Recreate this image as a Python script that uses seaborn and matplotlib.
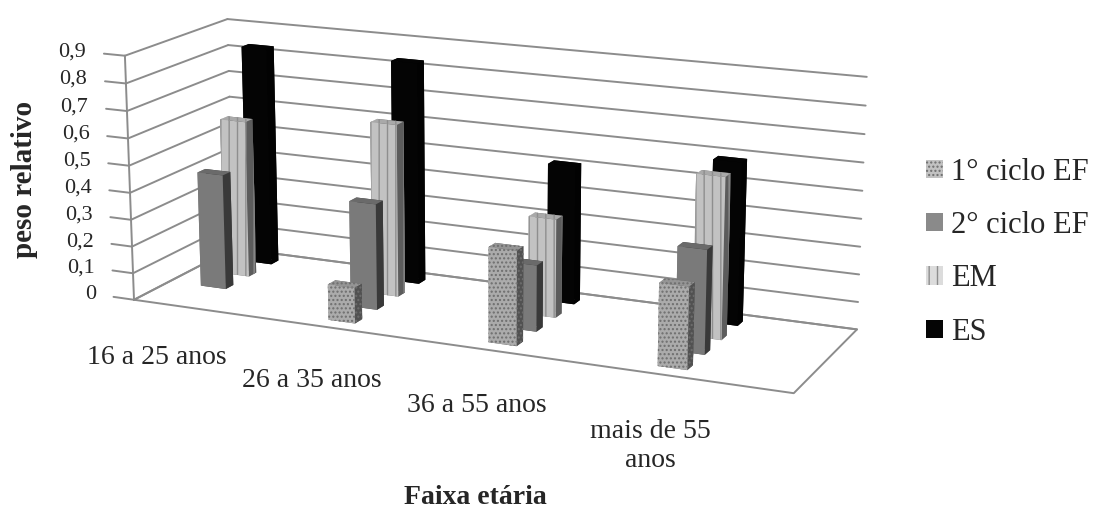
import numpy as np
import pandas as pd
import seaborn as sns
import matplotlib
matplotlib.use("Agg")
import matplotlib.pyplot as plt
from matplotlib.patches import Patch
from mpl_toolkits.mplot3d import proj3d

# ---- data -------------------------------------------------------------
categories = ["16 a 25 anos", "26 a 35 anos", "36 a 55 anos", "mais de 55\nanos"]
series = ["1° ciclo EF", "2° ciclo EF", "EM", "ES"]
ciclo1_ef = [0.0, 0.13, 0.34, 0.29]
ciclo2_ef = [0.43, 0.39, 0.24, 0.37]
em = [0.59, 0.64, 0.36, 0.58]
es = [0.83, 0.83, 0.51, 0.59]
z_ticks = [0.0, 0.1, 0.2, 0.3, 0.4, 0.5, 0.6, 0.7, 0.8, 0.9]
z_labels = ["0", "0,1", "0,2", "0,3", "0,4", "0,5", "0,6", "0,7", "0,8", "0,9"]

df = pd.DataFrame({
    "faixa": np.repeat(categories, len(series)),
    "nivel": series * len(categories),
    "peso": np.ravel(np.column_stack([ciclo1_ef, ciclo2_ef, em, es])),
})

# ---- style ------------------------------------------------------------
sns.set_theme(style="white")
plt.rcParams["font.family"] = ["Liberation Serif", "DejaVu Serif"]
plt.rcParams["hatch.linewidth"] = 1.0

GRID = "#8c8c8c"
styles = {
    "1° ciclo EF": dict(face="#c2c2c2", hatch="....", hcolor="#6e6e6e"),
    "2° ciclo EF": dict(face="#8a8a8a", hatch=None, hcolor="#8a8a8a"),
    "EM": dict(face="#dcdcdc", hatch="||", hcolor="#8e8e8e"),
    "ES": dict(face="#050505", hatch=None, hcolor="#050505"),
}

fig = plt.figure(figsize=(10.99, 5.19), dpi=100)
ax = fig.add_axes([0.009, 0.158, 0.86, 0.92], projection="3d", computed_zorder=False)
ax.set_proj_type("persp", focal_length=1.0)
ax.view_init(elev=15, azim=-66)
ax.set_box_aspect((0.880, 0.258, 0.319), zoom=1.59)
ax.set_axis_off()

x_lo, x_hi = -0.3, len(categories) - 0.28
y_lo, y_hi = -0.6, len(series) - 0.4
z_top = z_ticks[-1]
ax.set_xlim(x_lo, x_hi)
ax.set_ylim(y_lo, y_hi)
ax.set_zlim(0, z_top)

line_kw = dict(color=GRID, lw=1.4, zorder=1, clip_on=False)
# floor outline
ax.plot([x_lo, x_hi, x_hi, x_lo, x_lo], [y_lo, y_lo, y_hi, y_hi, y_lo],
        [0, 0, 0, 0, 0], **line_kw)
# horizontal gridlines on the side wall and the back wall
for z in z_ticks:
    ax.plot([x_lo, x_lo], [y_lo, y_hi], [z, z], **line_kw)
    ax.plot([x_lo, x_hi], [y_hi, y_hi], [z, z], **line_kw)
# vertical value axis with tick marks
ax.plot([x_lo, x_lo], [y_lo, y_lo], [0, z_top], **line_kw)
for z in z_ticks:
    ax.plot([x_lo - 0.14, x_lo], [y_lo, y_lo], [z, z], **line_kw)

# bars: one row of columns per series, back row drawn first
w, d = 0.17, 0.32
cat_pos = {c: i for i, c in enumerate(categories)}
for j, name in reversed(list(enumerate(series))):
    sub = df[(df["nivel"] == name) & (df["peso"] > 0)]
    xs = sub["faixa"].map(cat_pos).to_numpy(dtype=float)
    st = styles[name]
    ax.bar3d(xs - w / 2, np.full(len(xs), j - d / 2), np.zeros(len(xs)),
             w, d, sub["peso"].to_numpy(), color=st["face"], shade=True,
             edgecolor=st["hcolor"], linewidth=0, hatch=st["hatch"],
             zorder=10 + (len(series) - j), clip_on=False)


def label_at(x, y, z, text, **kw):
    """Place a 2D label at the projected position of a 3D data point."""
    px, py, _ = proj3d.proj_transform(x, y, z, ax.get_proj())
    ax.text2D(px, py, text, transform=ax.transData, clip_on=False, **kw)


for z, lab in zip(z_ticks, z_labels):
    label_at(x_lo - 0.26, y_lo, z, lab, ha="right", va="center", fontsize=16)

# category labels under the front edge of the floor
for i, cat in enumerate(categories):
    label_at(i + 0.05, y_lo - 1.2, -0.08, cat, ha="center", va="top",
             fontsize=20, multialignment="center")

fig.text(0.022, 0.655, "peso relativo", rotation=90, fontsize=21,
         fontweight="bold", ha="center", va="center")
fig.text(0.433, 0.042, "Faixa etária", fontsize=20, fontweight="bold",
         ha="center", va="center")

handles = []
for name in series:
    st = styles[name]
    handles.append(Patch(facecolor=st["face"], edgecolor=st["hcolor"],
                         linewidth=0, hatch=st["hatch"], label=name))
fig.legend(handles=handles, loc="center left", bbox_to_anchor=(0.818, 0.514),
           frameon=False, fontsize=22, handlelength=0.55, handleheight=0.55,
           handletextpad=0.25, labelspacing=0.8)

fig.savefig("out.png", dpi=100)
